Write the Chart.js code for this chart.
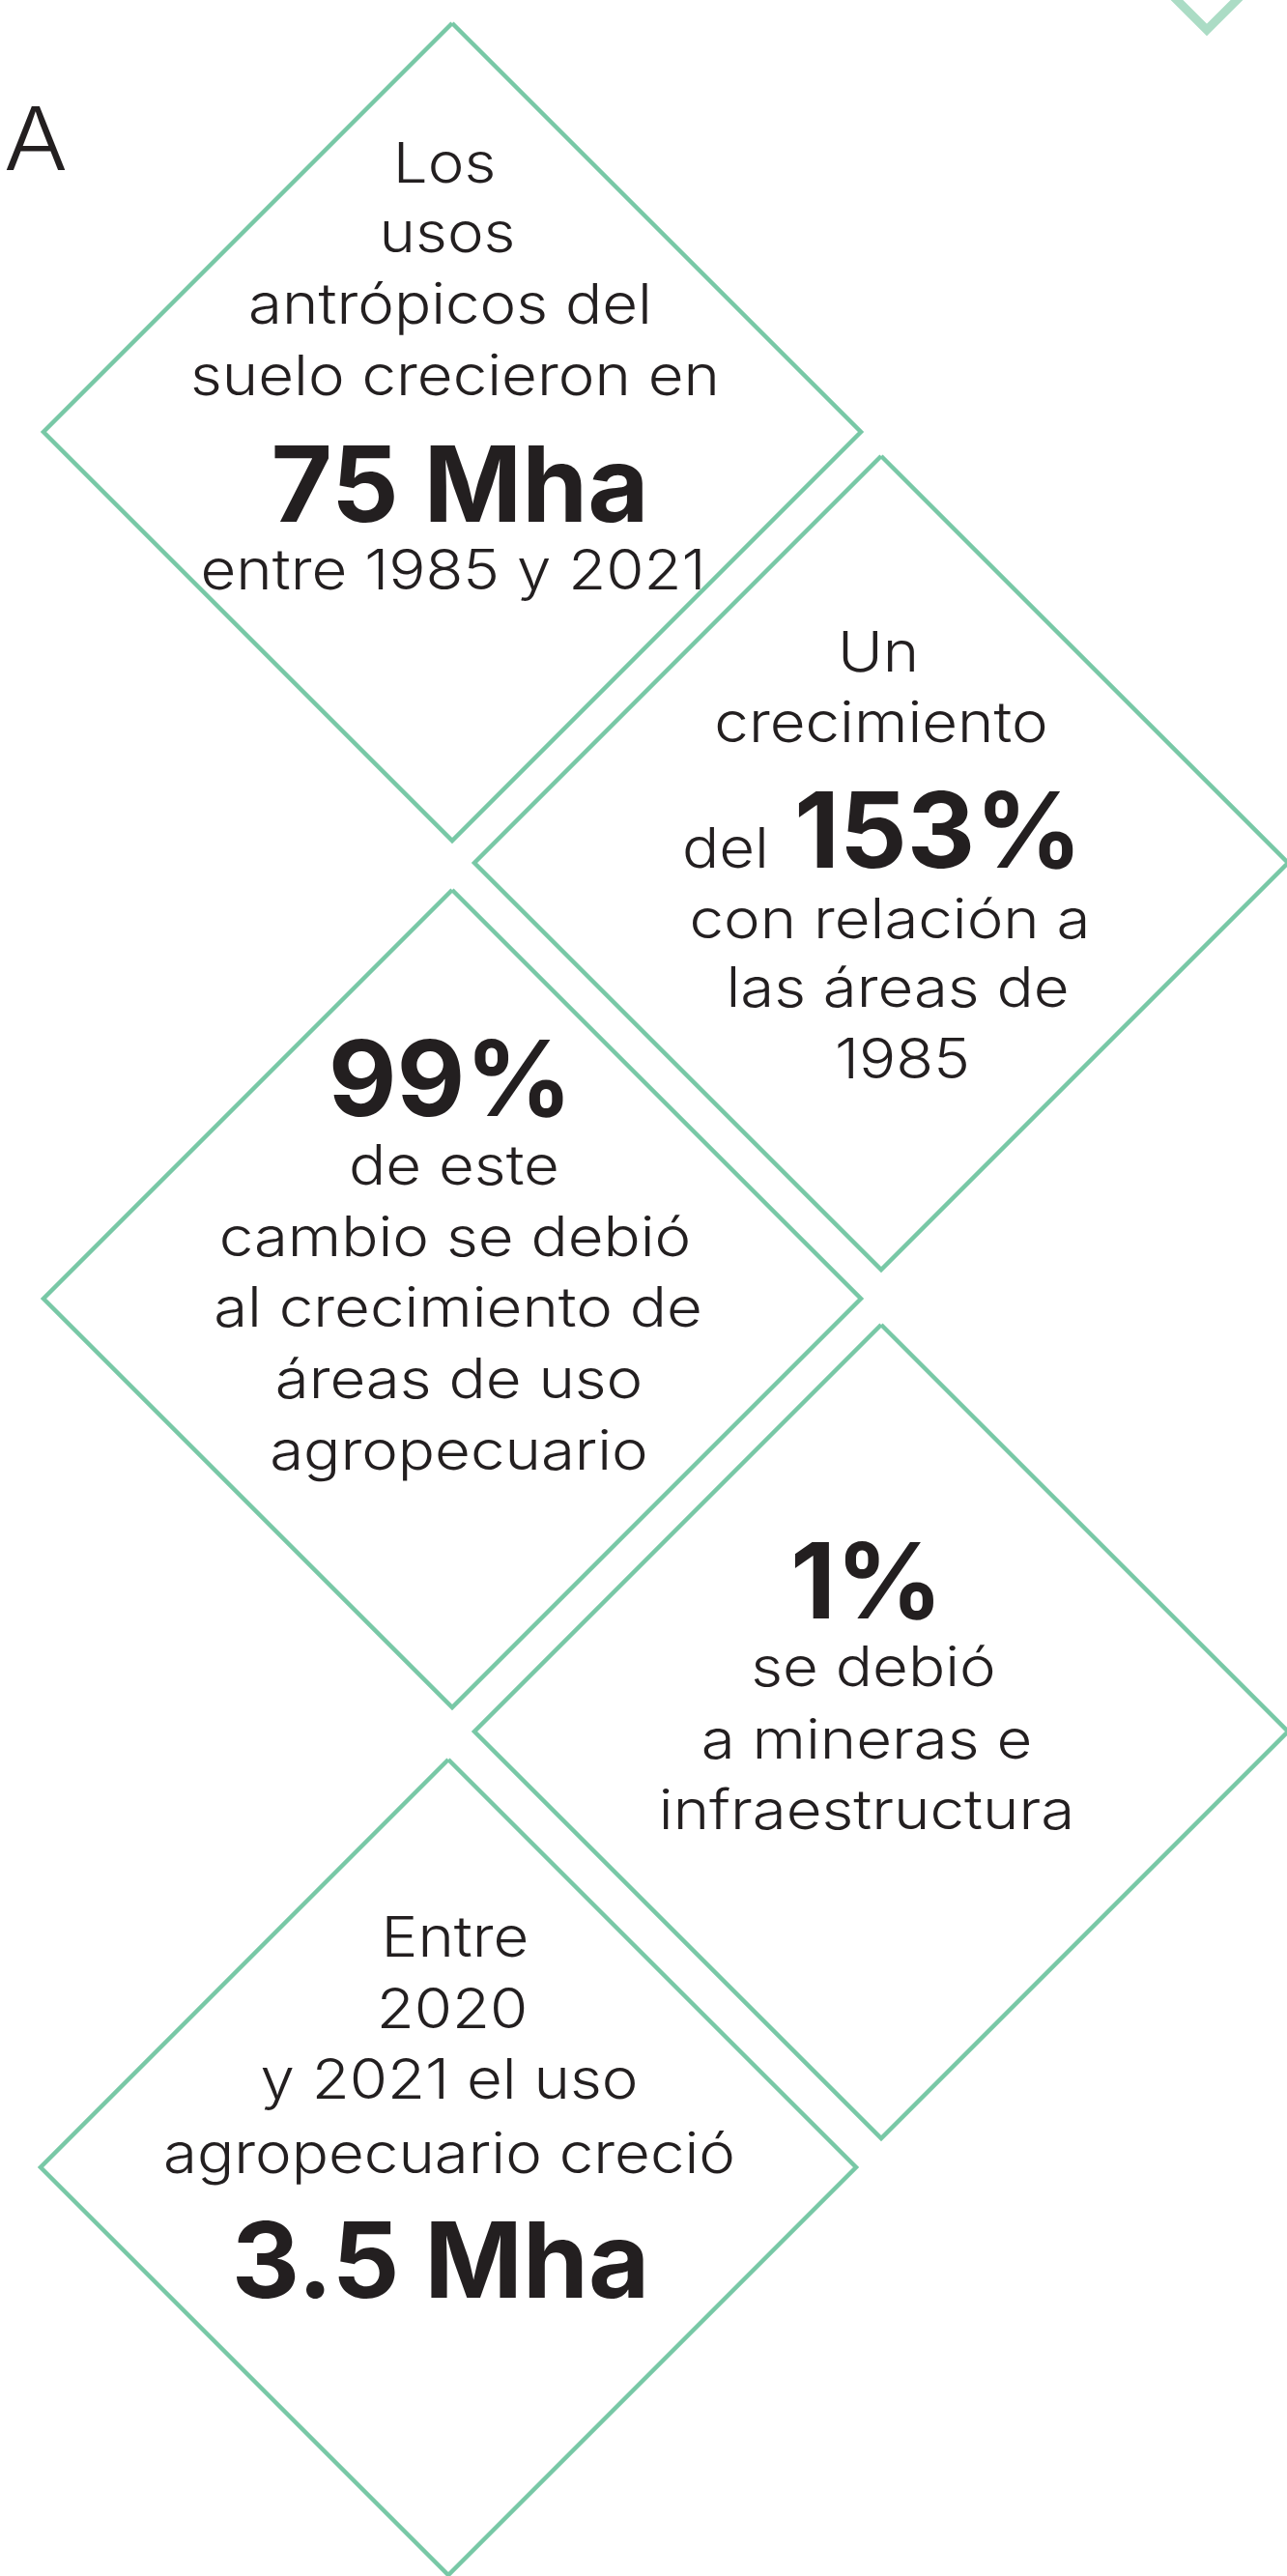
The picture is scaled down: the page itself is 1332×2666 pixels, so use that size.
<!DOCTYPE html>
<html>
<head>
<meta charset="utf-8">
<script src="https://cdn.jsdelivr.net/npm/chart.js@4.4.1/dist/chart.umd.min.js"></script>
<style>
  html, body { margin: 0; padding: 0; background: #ffffff; }
  #wrap { width: 1332px; height: 2666px; position: relative; }
</style>
</head>
<body>
<div id="wrap"><canvas id="rombosChart" width="1332" height="2666"></canvas></div>
<script>
// cifras destacadas
const cifras = ['75 Mha', '153%', '99%', '1%', '3.5 Mha'];

// textos de cada rombo (en orden de lectura)
const textoUsos = ['Los', 'usos', 'antrópicos del', 'suelo crecieron en', cifras[0], 'entre 1985 y 2021'];
const textoCrecimiento = ['Un', 'crecimiento', 'del', cifras[1], 'con relación a', 'las áreas de', '1985'];
const textoAgro = [cifras[2], 'de este', 'cambio se debió', 'al crecimiento de', 'áreas de uso', 'agropecuario'];
const textoMineras = [cifras[3], 'se debió', 'a mineras e', 'infraestructura'];
const textoReciente = ['Entre', '2020', 'y 2021 el uso', 'agropecuario creció', cifras[4]];
const tituloFragmento = 'A';

// geometria de los rombos (centro y semidiagonal, en px del lienzo)
const rombos = [
    { cx: 468, cy: 447, r: 423 },
    { cx: 912, cy: 893, r: 421 },
    { cx: 468, cy: 1344, r: 423 },
    { cx: 912, cy: 1792, r: 421 },
    { cx: 464, cy: 2243, r: 422 }
];
const romboDecor = { cx: 1249, cy: -391, r: 422 };

const VERDE = '#78c8a6';
const VERDE_CLARO = '#abdcc5';
const TINTA = '#231f20';

// estilos de texto; stretch se ajusta para que la linea de referencia mida lo que mide en el original
const estilos = {
    light: { family: 'Inter', weight: 300, size: 58, ref: ['suelo crecieron en', 548] },
    regular: { family: 'Inter', weight: 300, size: 57, ref: ['con relación a', 415] },
    bold: { family: 'Inter', weight: 700, size: 108, ref: ['75 Mha', 391] },
    titulo: { family: 'Inter', weight: 300, size: 91, ref: ['A', 66] }
};

// lineas: [runs, baseline y, centro x]
function L(texto, estilo) { return { text: texto, style: estilo }; }
const lineas = [
    [[L(textoUsos[0], 'light')], 189, 460],
    [[L(textoUsos[1], 'light')], 261, 463],
    [[L(textoUsos[2], 'light')], 335, 466],
    [[L(textoUsos[3], 'light')], 409, 471],
    [[L(textoUsos[4], 'bold')], 540, 476],
    [[L(textoUsos[5], 'light')], 610, 469],

    [[L(textoCrecimiento[0], 'light')], 695, 909],
    [[L(textoCrecimiento[1], 'light')], 768, 912],
    [[L(textoCrecimiento[2], 'light'), { gap: 26 }, L(textoCrecimiento[3], 'bold')], 898, 913],
    [[L(textoCrecimiento[4], 'regular')], 971, 921],
    [[L(textoCrecimiento[5], 'regular')], 1042, 929],
    [[L(textoCrecimiento[6], 'regular')], 1116, 934],

    [[L(textoAgro[0], 'bold')], 1155, 466],
    [[L(textoAgro[1], 'regular')], 1226, 470],
    [[L(textoAgro[2], 'regular')], 1300, 471],
    [[L(textoAgro[3], 'regular')], 1373, 474],
    [[L(textoAgro[4], 'regular')], 1447, 475],
    [[L(textoAgro[5], 'regular')], 1521, 475],

    [[L(textoMineras[0], 'bold')], 1675, 897],
    [[L(textoMineras[1], 'regular')], 1745, 904],
    [[L(textoMineras[2], 'regular')], 1820, 897],
    [[L(textoMineras[3], 'regular')], 1893, 897],

    [[L(textoReciente[0], 'light')], 2025, 471],
    [[L(textoReciente[1], 'light')], 2099, 468],
    [[L(textoReciente[2], 'light')], 2172, 465],
    [[L(textoReciente[3], 'light')], 2249, 465],
    [[L(textoReciente[4], 'bold')], 2378, 456],

    [[L(tituloFragmento, 'titulo')], 176, 37]
];

function vertices(d) {
    return [
        { x: d.cx, y: d.cy - d.r },
        { x: d.cx + d.r, y: d.cy },
        { x: d.cx, y: d.cy + d.r },
        { x: d.cx - d.r, y: d.cy },
        { x: d.cx, y: d.cy - d.r }
    ];
}

const datasets = rombos.map(d => ({
    data: vertices(d),
    showLine: true,
    borderColor: VERDE,
    borderWidth: 4.5,
    borderJoinStyle: 'miter',
    pointRadius: 0,
    tension: 0,
    fill: false
}));
datasets.push({
    data: vertices(romboDecor),
    showLine: true,
    borderColor: VERDE_CLARO,
    borderWidth: 9,
    borderJoinStyle: 'miter',
    pointRadius: 0,
    tension: 0,
    fill: false
});

function fuente(st) {
    return st.weight + ' ' + st.size + 'px "' + st.family + '", "Open Sans", sans-serif';
}

const textosPlugin = {
    id: 'textos',
    afterDatasetsDraw(chart) {
        const ctx = chart.ctx;
        const sx = chart.scales.x, sy = chart.scales.y;
        ctx.save();
        // factor de ancho por estilo
        const stretch = {};
        Object.keys(estilos).forEach(k => {
            ctx.font = fuente(estilos[k]);
            stretch[k] = estilos[k].ref[1] / ctx.measureText(estilos[k].ref[0]).width;
        });
        ctx.fillStyle = TINTA;
        ctx.textBaseline = 'alphabetic';
        ctx.textAlign = 'left';
        lineas.forEach(([runs, y, x]) => {
            let total = 0;
            const anchos = runs.map(run => {
                if (run.gap) return run.gap;
                ctx.font = fuente(estilos[run.style]);
                return ctx.measureText(run.text).width * stretch[run.style];
            });
            anchos.forEach(a => total += a);
            let px = sx.getPixelForValue(x) - total / 2;
            const py = sy.getPixelForValue(y);
            runs.forEach((run, i) => {
                if (!run.gap) {
                    ctx.font = fuente(estilos[run.style]);
                    ctx.save();
                    ctx.translate(px, py);
                    ctx.scale(stretch[run.style], 1);
                    ctx.fillText(run.text, 0, 0);
                    ctx.restore();
                }
                px += anchos[i];
            });
        });
        ctx.restore();
    }
};

const ctx = document.getElementById('rombosChart').getContext('2d');
new Chart(ctx, {
    type: 'scatter',
    data: { datasets: datasets },
    options: {
        responsive: false,
        animation: false,
        events: [],
        layout: { padding: 0 },
        plugins: {
            legend: { display: false },
            tooltip: { enabled: false },
            title: { display: false }
        },
        scales: {
            x: { type: 'linear', min: 0, max: 1332, display: false },
            y: { type: 'linear', min: 0, max: 2666, reverse: true, display: false }
        }
    },
    plugins: [textosPlugin]
});
</script>
</body>
</html>
